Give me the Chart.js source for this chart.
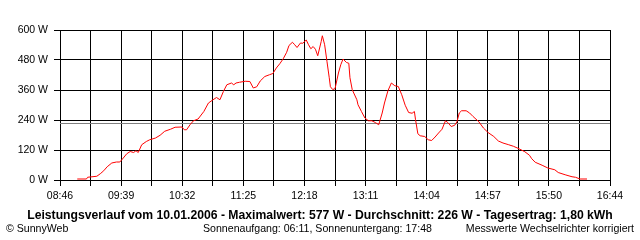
<!DOCTYPE html>
<html>
<head>
<meta charset="utf-8">
<script src="https://cdn.jsdelivr.net/npm/chart.js@4"></script>
<style>
  html, body { margin: 0; padding: 0; background: #fff; }
  #wrap { width: 640px; height: 240px; position: relative; }
</style>
</head>
<body>
<div id="wrap"><canvas id="c" width="640" height="240"></canvas></div>
<script>
// ---- data ----
const times = ['09:01','09:09','09:10','09:18','09:21','09:24','09:27','09:31','09:35','09:38','09:41','09:44','09:47','09:50','09:52','09:54','09:57','10:01','10:04','10:09','10:13','10:17','10:22','10:26','10:32','10:34','10:36','10:39','10:42','10:46','10:51','10:55','10:59','11:02','11:05','11:08','11:11','11:15','11:17','11:19','11:22','11:27','11:31','11:34','11:37','11:40','11:44','11:48','11:51','11:54','11:57','12:00','12:03','12:05','12:08','12:10','12:12','12:15','12:17','12:20','12:22','12:24','12:26','12:28','12:30','12:33','12:34','12:36','12:38','12:40','12:41','12:43','12:45','12:48','12:50','12:52','12:55','12:57','12:58','13:00','13:04','13:05','13:08','13:11','13:14','13:17','13:20','13:23','13:26','13:28','13:31','13:34','13:37','13:40','13:43','13:46','13:49','13:52','13:54','13:55','13:57','13:59','14:03','14:06','14:09','14:12','14:15','14:18','14:21','14:23','14:26','14:29','14:31','14:33','14:35','14:39','14:42','14:45','14:50','14:54','14:58','15:03','15:07','15:11','15:16','15:20','15:24','15:30','15:34','15:36','15:39','15:45','15:50','15:56','15:59','16:05','16:11','16:14','16:18','16:24'];
const watts = [4,4,11,15,25,37,53,68,72,72,88,105,114,110,117,110,141,154,161,168,179,195,203,211,212,201,201,221,237,244,274,308,321,330,321,354,381,388,381,388,391,395,394,368,373,396,414,421,426,448,465,485,511,538,551,541,530,548,547,560,541,525,534,523,497,554,577,541,475,409,373,362,365,428,461,484,470,467,409,361,321,301,274,248,237,237,230,221,268,308,357,388,377,374,341,299,270,267,274,241,185,177,174,161,158,172,188,203,237,230,214,219,233,268,277,277,268,254,233,208,190,174,156,148,141,135,127,113,99,85,71,59,48,41,30,21,13,11,4,4];
const xTickLabels = ['08:46','09:39','10:32','11:25','12:18','13:11','14:04','14:57','15:50','16:44'];
const yTickValues = [0,120,240,360,480,600];
const averageW = 226;
const titleText = 'Leistungsverlauf vom 10.01.2006 - Maximalwert: 577 W - Durchschnitt: 226 W - Tagesertrag: 1,80 kWh';
const footerTexts = ['\u00A9 SunnyWeb', 'Sonnenaufgang: 06:11, Sonnenuntergang: 17:48', 'Messwerte Wechselrichter korrigiert'];

// ---- helpers ----
const toMin = s => { const p = s.split(':'); return (+p[0]) * 60 + (+p[1]); };
const xMin = toMin(xTickLabels[0]);
const xMax = toMin(xTickLabels[xTickLabels.length - 1]);
const gridCount = (xTickLabels.length - 1) * 2;
const gridValues = [];
for (let i = 0; i <= gridCount; i++) gridValues.push(xMin + (xMax - xMin) * i / gridCount);

const points = times.map((t, i) => ({ x: toMin(t), y: watts[i] }));
const avgPoints = [{ x: xMin, y: averageW }, { x: xMax, y: averageW }];

const FONT = '"Liberation Sans", Arial, sans-serif';
Chart.defaults.font.family = FONT;
Chart.defaults.font.size = 10.5;
Chart.defaults.color = '#000';

const textPlugin = {
  id: 'captionTexts',
  afterDraw(chart) {
    const ctx = chart.ctx;
    ctx.save();
    ctx.fillStyle = '#000';
    ctx.textBaseline = 'middle';
    // bold summary line
    ctx.font = 'bold 12.2px ' + FONT;
    ctx.textAlign = 'center';
    ctx.fillText(titleText, 320, 216);
    // footer line
    ctx.font = '10.6px ' + FONT;
    ctx.textAlign = 'left';
    ctx.fillText(footerTexts[0], 6, 229);
    ctx.fillText(footerTexts[1], 203, 229);
    ctx.textAlign = 'right';
    ctx.fillText(footerTexts[2], 634, 229);
    ctx.restore();
  }
};

new Chart(document.getElementById('c'), {
  type: 'line',
  data: {
    datasets: [
      { data: points, borderColor: '#ff0000', borderWidth: 1, pointRadius: 0, tension: 0, fill: false, order: 1 },
      { data: avgPoints, borderColor: '#808080', borderWidth: 1, pointRadius: 0, tension: 0, fill: false, order: 2 }
    ]
  },
  options: {
    responsive: false,
    animation: false,
    events: [],
    layout: { padding: { top: 30, right: 30, left: 0, bottom: 36 } },
    plugins: {
      legend: { display: false },
      tooltip: { enabled: false },
      title: { display: false }
    },
    scales: {
      x: {
        type: 'linear',
        min: xMin,
        max: xMax,
        afterBuildTicks: s => { s.ticks = gridValues.map(v => ({ value: v })); },
        afterFit: s => { s.height = 24; },
        ticks: {
          autoSkip: false,
          maxRotation: 0,
          padding: 4,
          callback: (v, i) => (i % 2 === 0 ? xTickLabels[i / 2] : '')
        },
        grid: { color: '#000', lineWidth: 1, tickLength: 6, drawTicks: true },
        border: { color: '#000', width: 1 }
      },
      y: {
        min: yTickValues[0],
        max: yTickValues[yTickValues.length - 1],
        afterBuildTicks: s => { s.ticks = yTickValues.map(v => ({ value: v })); },
        afterFit: s => { s.width = 60; },
        ticks: { padding: 6, callback: v => v + ' W' },
        grid: { color: '#000', lineWidth: 1, tickLength: 6, drawTicks: true },
        border: { color: '#000', width: 1 }
      }
    }
  },
  plugins: [textPlugin]
});
</script>
</body>
</html>
